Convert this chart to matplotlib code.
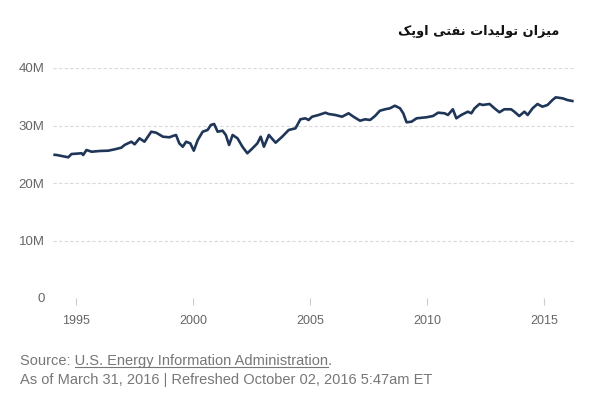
import matplotlib
matplotlib.use("Agg")
import matplotlib.pyplot as plt
from matplotlib.ticker import FuncFormatter, FixedLocator
from matplotlib.lines import Line2D

# ---- data (OPEC crude production, millions) ----
years = [1994.08, 1994.17, 1994.66, 1994.80, 1995.23, 1995.30, 1995.44, 1995.66, 1996.01, 1996.37,
         1996.65, 1996.93, 1997.07, 1997.36, 1997.50, 1997.71, 1997.92, 1998.21, 1998.42, 1998.71,
         1998.99, 1999.13, 1999.27, 1999.41, 1999.56, 1999.70, 1999.88, 2000.03, 2000.20, 2000.41,
         2000.62, 2000.76, 2000.90, 2001.05, 2001.26, 2001.40, 2001.54, 2001.69, 2001.90, 2002.11,
         2002.32, 2002.54, 2002.75, 2002.89, 2003.03, 2003.24, 2003.53, 2003.81, 2004.09, 2004.38,
         2004.59, 2004.80, 2004.94, 2005.09, 2005.37, 2005.66, 2005.80, 2006.08, 2006.37, 2006.65,
         2006.86, 2007.14, 2007.36, 2007.57, 2007.78, 2007.99, 2008.21, 2008.42, 2008.63, 2008.85,
         2008.99, 2009.13, 2009.34, 2009.56, 2009.98, 2010.26, 2010.48, 2010.76, 2010.90, 2011.11,
         2011.26, 2011.47, 2011.75, 2011.90, 2012.04, 2012.25, 2012.39, 2012.68, 2012.89, 2013.10,
         2013.31, 2013.60, 2013.74, 2013.95, 2014.17, 2014.31, 2014.52, 2014.73, 2014.94, 2015.16,
         2015.37, 2015.51, 2015.80, 2016.01, 2016.22]
production_m = [24.9, 24.87, 24.47, 25.04, 25.17, 24.87, 25.74, 25.44, 25.57, 25.62,
                25.86, 26.14, 26.61, 27.18, 26.73, 27.77, 27.18, 28.92, 28.75, 28.05,
                27.95, 28.17, 28.35, 26.90, 26.31, 27.18, 26.90, 25.62, 27.48, 28.92,
                29.22, 30.09, 30.26, 28.92, 29.10, 28.35, 26.61, 28.35, 27.77, 26.31,
                25.17, 26.03, 26.90, 28.05, 26.31, 28.35, 27.01, 28.05, 29.22, 29.51,
                31.08, 31.25, 30.96, 31.53, 31.83, 32.23, 32.00, 31.83, 31.53, 32.12,
                31.53, 30.83, 31.08, 30.96, 31.65, 32.57, 32.82, 32.99, 33.44, 32.99,
                32.12, 30.56, 30.66, 31.25, 31.43, 31.65, 32.23, 32.12, 31.83, 32.82,
                31.25, 31.83, 32.40, 32.12, 32.99, 33.74, 33.57, 33.74, 32.99, 32.30,
                32.82, 32.82, 32.40, 31.65, 32.40, 31.83, 32.99, 33.74, 33.27, 33.57,
                34.43, 34.90, 34.73, 34.43, 34.26]
y_ticks = [0, 10, 20, 30, 40]
x_ticks = [1995, 2000, 2005, 2010, 2015]

title_text = "میزان تولیدات نفتی اوپک"
source_prefix = "Source: "
source_link = "U.S. Energy Information Administration"
footer_text = "As of March 31, 2016 | Refreshed October 02, 2016 5:47am ET"

# ---- minimal Arabic/Persian shaping (matplotlib has no complex text layout) ----
FORMS = {
    'م': ('\uFEE1', '\uFEE2', '\uFEE3', '\uFEE4'),
    'ی': ('\uFBFC', '\uFBFD', '\uFBFE', '\uFBFF'),
    'ن': ('\uFEE5', '\uFEE6', '\uFEE7', '\uFEE8'),
    'ت': ('\uFE95', '\uFE96', '\uFE97', '\uFE98'),
    'ل': ('\uFEDD', '\uFEDE', '\uFEDF', '\uFEE0'),
    'ف': ('\uFED1', '\uFED2', '\uFED3', '\uFED4'),
    'پ': ('\uFB56', '\uFB57', '\uFB58', '\uFB59'),
    'ک': ('\uFB8E', '\uFB8F', '\uFB90', '\uFB91'),
    'ز': ('\uFEAF', '\uFEB0'),
    'ا': ('\uFE8D', '\uFE8E'),
    'و': ('\uFEED', '\uFEEE'),
    'د': ('\uFEA9', '\uFEAA'),
}


def dual(ch):
    return ch in FORMS and len(FORMS[ch]) == 4


def shape_rtl(text):
    out = []
    for i, ch in enumerate(text):
        if ch not in FORMS:
            out.append(ch)
            continue
        prev_join = i > 0 and dual(text[i - 1])
        next_join = dual(ch) and i + 1 < len(text) and text[i + 1] in FORMS
        f = FORMS[ch]
        if len(f) == 4:
            if prev_join and next_join:
                out.append(f[3])
            elif prev_join:
                out.append(f[1])
            elif next_join:
                out.append(f[2])
            else:
                out.append(f[0])
        else:
            out.append(f[1] if prev_join else f[0])
    return ''.join(out)[::-1]


plt.rcParams['font.family'] = ['Liberation Sans', 'DejaVu Sans']

fig = plt.figure(figsize=(6, 4), dpi=100)
ax = fig.add_axes([0.088, 0.255, 0.869, 0.575])

ax.plot(years, production_m, color='#1f3658', linewidth=1.9, solid_joinstyle='round')

ax.set_xlim(1994.0, 2016.3)
ax.set_ylim(0, 40)
ax.yaxis.set_major_locator(FixedLocator(y_ticks))
ax.xaxis.set_major_locator(FixedLocator(x_ticks))
ax.yaxis.set_major_formatter(FuncFormatter(lambda v, p: "0" if v == 0 else f"{int(v)}M"))
ax.xaxis.set_major_formatter(FuncFormatter(lambda v, p: f"{int(v)}"))

for s in ax.spines.values():
    s.set_visible(False)
ax.yaxis.grid(True, color='#d9d9d9', linestyle=(0, (3, 2)), linewidth=0.8)
ax.set_axisbelow(True)
ax.tick_params(axis='y', length=0, pad=6, labelsize=9.5, labelcolor='#666666')
ax.tick_params(axis='x', length=5, width=0.8, color='#cccccc', pad=7,
               labelsize=9, labelcolor='#666666')

# title
fig.text(0.932, 0.922, shape_rtl(title_text), ha='right', va='center',
         fontsize=9.3, fontweight='bold', color='#111111',
         family=['DejaVu Sans'])

# footer
fx, fy1, fy2 = 0.034, 0.098, 0.050
fsize = 10.5
fcol = '#777777'
fig.text(fx, fy1, source_prefix + source_link + ".", fontsize=fsize, color=fcol,
         ha='left', va='center')
fig.text(fx, fy2, footer_text, fontsize=fsize, color=fcol, ha='left', va='center')

fig.canvas.draw()
r = fig.canvas.get_renderer()


def width_px(s):
    t = fig.text(0, 0, s, fontsize=fsize)
    w = t.get_window_extent(r).width
    t.remove()
    return w


W = fig.bbox.width
H = fig.bbox.height
start = width_px(source_prefix + "U") - width_px("U")
end = width_px(source_prefix + source_link)
x0 = fx * W
uy = fy1 * H - 6.5
fig.add_artist(Line2D([(x0 + start) / W, (x0 + end) / W], [uy / H, uy / H],
                      color=fcol, linewidth=0.8))

fig.savefig("out.png", dpi=100)
